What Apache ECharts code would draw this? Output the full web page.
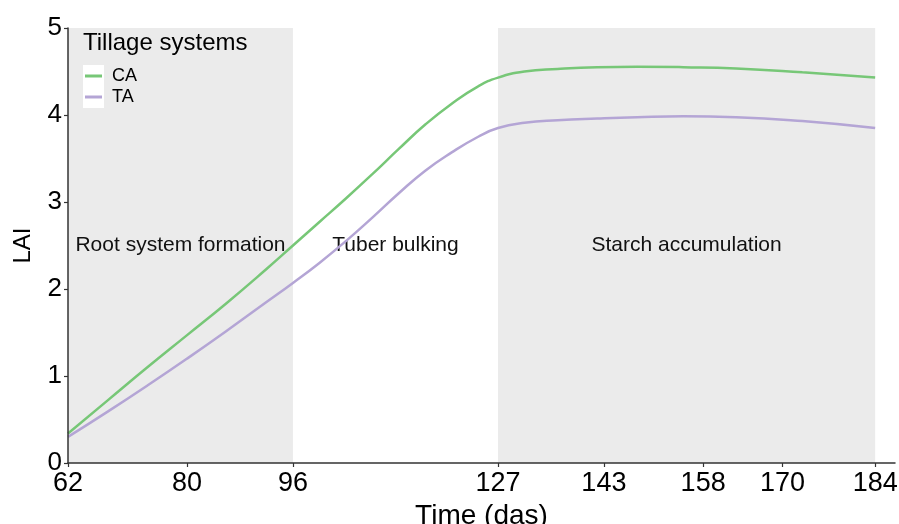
<!DOCTYPE html>
<html>
<head>
<meta charset="utf-8">
<script src="https://cdn.jsdelivr.net/npm/echarts@6/dist/echarts.min.js"></script>
<style>
html,body{margin:0;padding:0;background:#fff;}
#chart{width:899px;height:524px;}
</style>
</head>
<body>
<div id="chart"></div>
<script>
const days  = [62, 68, 74, 80, 86, 92, 96, 100, 104, 108, 112, 116, 120, 124, 127, 131, 136, 142, 148, 155, 163, 173, 184];
const caLAI = [0.34, 0.72, 1.10, 1.47, 1.84, 2.23, 2.50, 2.77, 3.04, 3.32, 3.61, 3.89, 4.13, 4.33, 4.43, 4.50, 4.53, 4.55, 4.555, 4.55, 4.535, 4.49, 4.43];
const taLAI = [0.30, 0.59, 0.89, 1.20, 1.52, 1.85, 2.07, 2.30, 2.55, 2.82, 3.10, 3.36, 3.57, 3.75, 3.85, 3.91, 3.94, 3.96, 3.975, 3.985, 3.975, 3.93, 3.85];
const xTicks = [62, 80, 96, 127, 143, 158, 170, 184];
const phases = [
  {name: 'Root system formation', from: 62, to: 96, shaded: true},
  {name: 'Tuber bulking', from: 96, to: 127, shaded: false},
  {name: 'Starch accumulation', from: 127, to: 184, shaded: true}
];
const seriesNames = ['CA', 'TA'];
const legendTitle = 'Tillage systems';

const FONT = 'Liberation Sans, Arial, sans-serif';
const chart = echarts.init(document.getElementById('chart'));

const pairs = (ys) => days.map((d, i) => [d, ys[i]]);

chart.setOption({
  animation: false,
  backgroundColor: '#ffffff',
  textStyle: {fontFamily: FONT},
  grid: {left: 68, right: 4, top: 28, bottom: 61, containLabel: false, outerBoundsMode: 'none'},
  title: {
    text: legendTitle, left: 83, top: 31, padding: 0,
    textStyle: {fontFamily: FONT, fontSize: 24, fontWeight: 'normal', color: '#000'}
  },
  legend: {
    data: seriesNames, orient: 'vertical', left: 85, top: 67, padding: 0,
    icon: 'rect', itemWidth: 17, itemHeight: 3, itemGap: 3,
    textStyle: {fontFamily: FONT, fontSize: 18, lineHeight: 18, color: '#000', padding: [0, 0, 0, 5]}
  },
  graphic: {
    elements: [{type: 'rect', z: 3, shape: {x: 83, y: 65, width: 21, height: 43}, style: {fill: '#ffffff'}}]
  },
  xAxis: {
    type: 'value', min: 62, max: 187, z: 10,
    name: 'Time (das)', nameLocation: 'middle', nameGap: 37,
    nameTextStyle: {fontFamily: FONT, fontSize: 28, color: '#000'},
    axisLine: {show: true, onZero: false, lineStyle: {color: '#333', width: 1.5}},
    axisTick: {show: true, length: 4, customValues: xTicks, lineStyle: {color: '#333', width: 1.2}},
    axisLabel: {customValues: xTicks, fontFamily: FONT, fontSize: 27, color: '#000', margin: 7},
    splitLine: {show: false}
  },
  yAxis: {
    type: 'value', min: 0, max: 5, interval: 1, z: 10,
    name: 'LAI', nameLocation: 'middle', nameGap: 33, nameRotate: 90,
    nameTextStyle: {fontFamily: FONT, fontSize: 24, color: '#000'},
    axisLine: {show: true, lineStyle: {color: '#333', width: 1.5}},
    axisTick: {show: true, length: 4, lineStyle: {color: '#333', width: 1.2}},
    axisLabel: {fontFamily: FONT, fontSize: 26, color: '#000', margin: 6},
    splitLine: {show: false}
  },
  series: [
    {
      name: seriesNames[0], type: 'line', data: pairs(caLAI), smooth: 0.5,
      showSymbol: false, lineStyle: {color: '#77c777', width: 2.5}, itemStyle: {color: '#77c777'}, z: 3,
      markArea: {
        silent: true,
        data: phases.map(p => [
          {xAxis: p.from, itemStyle: {color: p.shaded ? '#ebebeb' : 'rgba(0,0,0,0)'},
           label: {show: true, position: 'inside', formatter: p.name, fontFamily: FONT, fontSize: 21, color: '#111'}},
          {xAxis: p.to}
        ])
      }
    },
    {
      name: seriesNames[1], type: 'line', data: pairs(taLAI), smooth: 0.5,
      showSymbol: false, lineStyle: {color: '#b4a5d5', width: 2.5}, itemStyle: {color: '#b4a5d5'}, z: 3
    }
  ]
});
</script>
</body>
</html>
